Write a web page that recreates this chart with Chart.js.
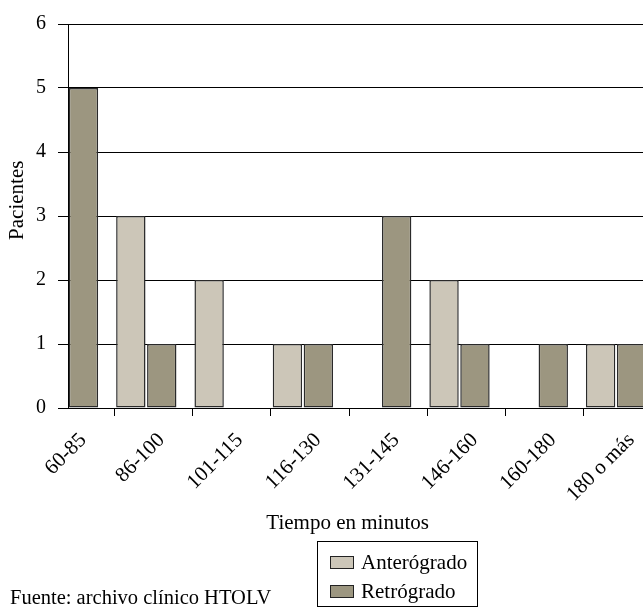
<!DOCTYPE html>
<html lang="es">
<head>
  <meta charset="UTF-8">
  <title>Pacientes por tiempo</title>
  <script src="https://cdn.jsdelivr.net/npm/chart.js@4.4.0/dist/chart.umd.min.js"></script>
  <style>
    body { margin: 0; background: #fff; overflow: hidden; font-family: "Liberation Serif", "Times New Roman", serif; }
    #wrap { position: relative; width: 643px; height: 614px; }
    #legend { position: absolute; left: 317px; top: 541px; width: 161px; height: 66px; border: 1px solid #000; box-sizing: border-box; font-size: 21px; color: #000; }
    .item { position: absolute; left: 12px; height: 24px; line-height: 24px; white-space: nowrap; }
    .item span { display: inline-block; width: 22px; height: 11px; border: 1px solid #222; margin-right: 7px; vertical-align: 0px; }
    #fuente { position: absolute; left: 10px; top: 585px; font-size: 20.5px; line-height: 24px; color: #000; white-space: nowrap; }
  </style>
</head>
<body>
<div id="wrap">
  <canvas id="chart" width="643" height="614"></canvas>
  <div id="legend">
    <div class="item" style="top:8px"><span style="background:#ccc6b8"></span>Anterógrado</div>
    <div class="item" style="top:37px"><span style="background:#9c9680"></span>Retrógrado</div>
  </div>
  <div id="fuente">Fuente: archivo clínico HTOLV</div>
</div>

<script>
const tiempos = ['60-85', '86-100', '101-115', '116-130', '131-145', '146-160', '160-180', '180 o más'];
const anterogrado = [0, 3, 2, 1, 0, 2, 0, 1];
const retrogrado = [5, 1, 0, 1, 3, 1, 1, 1];
const yTicks = [0, 1, 2, 3, 4, 5, 6];

const serif = '"Liberation Serif", "Times New Roman", serif';
const pitch = 78.3;

const toPoints = arr => arr.map((v, i) => ({ x: i, y: v }));

const ctx = document.getElementById('chart').getContext('2d');

const myChart = new Chart(ctx, {
  type: 'bar',
  data: {
    datasets: [{
      label: 'Anterógrado',
      data: toPoints(anterogrado),
      backgroundColor: '#ccc6b8',
      borderColor: '#2a2a2a',
      borderWidth: 1.5,
      borderSkipped: false
    }, {
      label: 'Retrógrado',
      data: toPoints(retrogrado),
      backgroundColor: '#9c9680',
      borderColor: '#2a2a2a',
      borderWidth: 1.5,
      borderSkipped: false
    }]
  },
  options: {
    responsive: false,
    animation: false,
    categoryPercentage: 0.79,
    barPercentage: 0.95,
    layout: { padding: { top: 16, left: 0, right: 0, bottom: 78 } },
    plugins: { legend: { display: false }, tooltip: { enabled: false } },
    scales: {
      x: {
        type: 'linear',
        offset: false,
        min: 0,
        max: 575 / pitch,
        // tick marks sit between the groups, labels shifted back under the bars
        afterBuildTicks: s => { s.ticks = tiempos.map((t, i) => ({ value: i + 0.59 })); },
        afterFit: s => { s.height = 128; s.paddingLeft = 0; s.paddingRight = 0; },
        ticks: {
          autoSkip: false,
          minRotation: 45,
          maxRotation: 45,
          labelOffset: -31,
          padding: 12,
          color: '#000',
          font: { family: serif, size: 21 },
          callback: (v, i) => tiempos[i]
        },
        grid: { offset: false, drawOnChartArea: false, tickLength: 8, color: '#000' },
        border: { color: '#000', width: 1 },
        title: {
          display: true,
          text: 'Tiempo en minutos   ',
          color: '#000',
          font: { family: serif, size: 21 },
          padding: { top: 0, bottom: 0 }
        }
      },
      y: {
        min: 0,
        max: 6,
        afterBuildTicks: s => { s.ticks = yTicks.map(v => ({ value: v })); },
        afterFit: s => { s.width = 68; },
        ticks: {
          padding: 12,
          color: '#000',
          font: { family: serif, size: 20 }
        },
        grid: { color: '#000', lineWidth: 1, tickLength: 10 },
        border: { color: '#000', width: 1 },
        title: {
          display: true,
          text: '      Pacientes',
          color: '#000',
          font: { family: serif, size: 21 },
          padding: { top: 5, bottom: 0 }
        }
      }
    }
  }
});
</script>
</body>
</html>
